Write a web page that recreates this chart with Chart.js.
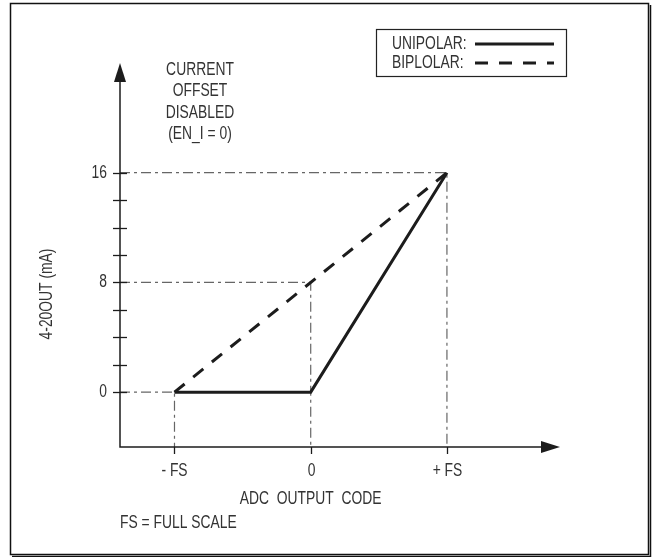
<!DOCTYPE html>
<html>
<head>
<meta charset="utf-8">
<script src="https://cdn.jsdelivr.net/npm/chart.js@4.4.1/dist/chart.umd.min.js"></script>
<style>
  html, body { margin: 0; padding: 0; background: #fff; }
  #wrap { width: 652px; height: 557px; position: relative; }
</style>
</head>
<body>
<div id="wrap"><canvas id="chart"></canvas></div>
<script>
// 4-20OUT current vs ADC output code, current offset disabled

const codePoints = [-1, 0, 1];          // -FS, 0, +FS
const unipolarCurrent = [0, 0, 16];     // mA
const bipolarCodes = [-1, 1];
const bipolarCurrent = [0, 16];

const xTicks = [-1, 0, 1];
const xTickLabels = ['- FS', '0', '+ FS'];
const yTicks = [0, 2, 4, 6, 8, 10, 12, 14, 16];
const yLabelled = [0, 8, 16];

// dash-dot guides dropped from these corners to both axes
const guideCodes = [-1, 0, 1];
const guideCurrent = [0, 8, 16];

const xRange = [-1.4, 1.83];
const yRange = [-4, 24];

// the original uses a condensed grotesque, fake it by squeezing Liberation Sans
const FONT = '18px "Liberation Sans", Arial, sans-serif';
const SQUEEZE = 0.77;
const INK = '#1c1c1c';
const TEXT = '#333';

const toPoints = (xs, ys) => xs.map((v, i) => ({ x: v, y: ys[i] }));

const guideSets = guideCodes.map((c, i) => ({
    label: 'guide' + i,
    data: [
        { x: xRange[0], y: guideCurrent[i] },
        { x: c, y: guideCurrent[i] },
        { x: c, y: yRange[0] }
    ],
    borderColor: '#666',
    borderWidth: 1.2,
    borderDash: [10, 4, 3, 4],
    pointRadius: 0,
    showLine: true,
    order: 2
}));

const unipolarSet = {
    label: 'UNIPOLAR:',
    data: toPoints(codePoints, unipolarCurrent),
    borderColor: INK,
    borderWidth: 3,
    borderJoinStyle: 'miter',
    pointRadius: 0,
    showLine: true,
    order: 0
};

const bipolarSet = {
    label: 'BIPLOLAR:',
    data: toPoints(bipolarCodes, bipolarCurrent),
    borderColor: INK,
    borderWidth: 3,
    borderDash: [13, 11],
    pointRadius: 0,
    showLine: true,
    order: 1
};

// condensed text helper
function text(ctx, str, x, y, align, angle) {
    ctx.save();
    ctx.translate(x, y);
    if (angle) ctx.rotate(angle);
    ctx.scale(SQUEEZE, 1);
    ctx.textAlign = align || 'center';
    ctx.textBaseline = 'middle';
    ctx.fillText(str, 0, 0);
    ctx.restore();
}

const decorations = {
    id: 'decorations',
    beforeDraw(chart) {
        const ctx = chart.ctx;
        ctx.save();
        ctx.fillStyle = '#fff';
        ctx.fillRect(0, 0, chart.width, chart.height);
        // outer frame with a little shadow on right/bottom
        ctx.strokeStyle = '#111';
        ctx.lineWidth = 1.5;
        ctx.strokeRect(10.5, 3.5, 638, 551);
        ctx.beginPath();
        ctx.moveTo(650.5, 5);
        ctx.lineTo(650.5, 556.5);
        ctx.lineTo(12, 556.5);
        ctx.stroke();
        ctx.restore();
    },
    afterDatasetsDraw(chart) {
        const { ctx, chartArea: a, scales: { x, y } } = chart;
        const x0 = a.left, y0 = a.bottom;
        ctx.save();
        ctx.strokeStyle = INK;
        ctx.fillStyle = INK;
        ctx.lineWidth = 1.5;

        // axes
        ctx.beginPath();
        ctx.moveTo(x0, a.top + 15);
        ctx.lineTo(x0, y0);
        ctx.lineTo(a.right - 15, y0);
        ctx.stroke();

        // arrow heads
        ctx.beginPath();
        ctx.moveTo(x0, a.top);
        ctx.lineTo(x0 - 6, a.top + 19);
        ctx.lineTo(x0 + 6, a.top + 19);
        ctx.closePath();
        ctx.fill();
        ctx.beginPath();
        ctx.moveTo(a.right, y0);
        ctx.lineTo(a.right - 19, y0 - 6);
        ctx.lineTo(a.right - 19, y0 + 6);
        ctx.closePath();
        ctx.fill();

        // tick marks + labels
        ctx.lineWidth = 1.3;
        ctx.font = FONT;
        y.ticks.forEach(t => {
            const py = Math.round(y.getPixelForValue(t.value)) + 0.5;
            ctx.beginPath();
            ctx.moveTo(x0 - 7, py);
            ctx.lineTo(x0 + 7, py);
            ctx.stroke();
            if (yLabelled.includes(t.value)) {
                ctx.fillStyle = TEXT;
                text(ctx, String(t.value), x0 - 13, py, 'right');
            }
        });
        x.ticks.forEach((t, i) => {
            const px = Math.round(x.getPixelForValue(t.value)) + 0.5;
            ctx.beginPath();
            ctx.moveTo(px, y0);
            ctx.lineTo(px, y0 + 7);
            ctx.stroke();
            ctx.fillStyle = TEXT;
            text(ctx, xTickLabels[i], px, y0 + 24);
        });

        // annotation and axis titles
        ctx.fillStyle = TEXT;
        ['CURRENT', 'OFFSET', 'DISABLED', '(EN_I = 0)'].forEach((s, i) => {
            text(ctx, s, 200, 70 + i * 21.3);
        });
        text(ctx, 'ADC  OUTPUT  CODE', x.getPixelForValue(0), 499);
        text(ctx, 'FS = FULL SCALE', x0, 523, 'left');
        text(ctx, '4-20OUT (mA)', 47, 294, 'center', -Math.PI / 2);

        // legend box
        ctx.strokeStyle = '#222';
        ctx.lineWidth = 1.2;
        ctx.strokeRect(376.5, 29.5, 190, 47);
        [unipolarSet, bipolarSet].forEach((ds, i) => {
            const ly = 44 + i * 19;
            ctx.fillStyle = TEXT;
            text(ctx, ds.label, 392, ly, 'left');
            ctx.strokeStyle = ds.borderColor;
            ctx.lineWidth = ds.borderWidth;
            ctx.setLineDash(ds.borderDash || []);
            ctx.beginPath();
            ctx.moveTo(475, ly);
            ctx.lineTo(554, ly);
            ctx.stroke();
        });
        ctx.restore();
    }
};

new Chart(document.getElementById('chart'), {
    type: 'scatter',
    data: {
        datasets: [unipolarSet, bipolarSet, ...guideSets]
    },
    options: {
        responsive: true,
        maintainAspectRatio: false,
        animation: false,
        layout: {
            padding: { left: 0, right: 92, top: 63, bottom: 0 }
        },
        scales: {
            x: {
                type: 'linear',
                min: xRange[0],
                max: xRange[1],
                grid: { display: false, drawTicks: false },
                border: { display: false },
                afterBuildTicks: scale => {
                    scale.ticks = xTicks.map(v => ({ value: v }));
                },
                afterFit: scale => { scale.height = 110; },
                ticks: { display: false }
            },
            y: {
                type: 'linear',
                min: yRange[0],
                max: yRange[1],
                grid: { display: false, drawTicks: false },
                border: { display: false },
                afterBuildTicks: scale => {
                    scale.ticks = yTicks.map(v => ({ value: v }));
                },
                afterFit: scale => { scale.width = 120; },
                ticks: { display: false }
            }
        },
        plugins: {
            legend: { display: false },
            tooltip: { enabled: false }
        }
    },
    plugins: [decorations]
});
</script>
</body>
</html>
